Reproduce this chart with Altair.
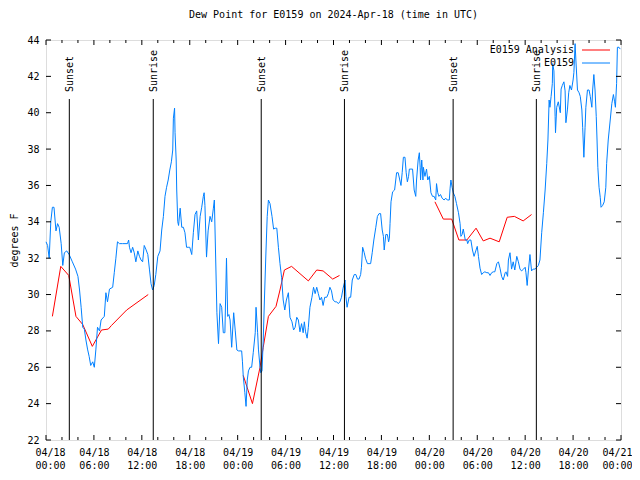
import altair as alt
import pandas as pd

# ---------------- data (hours after 2024-04-18 00:00 UTC) ----------------
obs_hours = [0.0, 0.2, 0.4, 0.6, 0.8, 1.0, 1.25, 1.45, 1.65, 1.9, 2.1, 2.3, 2.6, 2.9, 3.3, 3.7, 4.0, 4.2, 4.4, 4.6,
             4.8, 5.0, 5.2, 5.4, 5.6, 5.85, 6.05, 6.25, 6.45, 6.7, 6.9, 7.3, 7.5, 7.7, 7.95, 8.35, 8.55, 8.75, 8.95, 9.2,
             9.6, 10.2, 10.35, 10.45, 10.65, 10.85, 11.05, 11.25, 11.5, 11.7, 11.9, 12.1, 12.3, 12.5, 12.75, 12.95,
             13.15, 13.35, 13.55, 13.75, 14.0, 14.28, 14.49, 14.7, 14.9, 15.1, 15.3, 15.5, 15.7, 15.87, 15.95, 16.1,
             16.16, 16.3, 16.37, 16.5, 16.6, 16.8, 17.0, 17.2, 17.4, 17.6, 17.8, 18.0, 18.25, 18.45, 18.66, 18.87,
             19.08, 19.3, 19.5, 19.7, 19.8, 19.9, 20.1, 20.3, 20.54, 20.75, 20.96, 21.08, 21.25, 21.4, 21.6, 21.8,
             22.0, 22.1, 22.2, 22.4, 22.6, 22.75, 22.9, 23.05, 23.25, 23.5, 23.7, 23.9, 24.1, 24.5, 24.6, 24.7, 24.9,
             25.05, 25.2, 25.35, 25.55, 25.75, 25.95, 26.2, 26.3, 26.5, 26.6, 26.8, 26.9, 27.05, 27.2, 27.35, 27.55,
             27.7, 27.85, 28.05, 28.3, 28.5, 28.7, 28.9, 29.1, 29.3, 29.5, 29.7, 29.9, 30.1, 30.35, 30.55, 30.8, 31.0,
             31.2, 31.4, 31.6, 31.8, 32.0, 32.2, 32.35, 32.5, 32.7, 32.85, 33.05, 33.3, 33.5, 33.7, 33.9, 34.1, 34.3,
             34.5, 34.7, 34.9, 35.15, 35.35, 35.55, 35.75, 35.95, 36.2, 36.4, 36.6, 36.8, 37.0, 37.2, 37.45, 37.55,
             37.7, 37.95, 38.15, 38.35, 38.6, 38.8, 39.0, 39.2, 39.4, 39.5, 39.65, 39.85, 40.0, 40.25, 40.45, 40.65,
             40.85, 41.05, 41.3, 41.5, 41.7, 41.9, 42.1, 42.25, 42.35, 42.55, 42.75, 42.9, 43.0, 43.08, 43.2, 43.4,
             43.65, 43.9, 44.1, 44.3, 44.45, 44.6, 44.75, 44.95, 45.1, 45.25, 45.4, 45.5, 45.7, 45.9, 46.1, 46.3,
             46.4, 46.6, 46.75, 46.85, 46.9, 47.05, 47.2, 47.25, 47.45, 47.65, 47.8, 48.0, 48.2, 48.4, 48.6, 48.8,
             48.9, 49.05, 49.2, 49.4, 49.6, 49.85, 50.05, 50.25, 50.5, 50.6, 50.7, 50.85, 51.0, 51.2, 51.4, 51.65,
             51.85, 51.95, 52.1, 52.25, 52.5, 52.7, 52.8, 53.0, 53.2, 53.4, 53.6, 53.85, 54.0, 54.15, 54.35, 54.55,
             54.75, 54.95, 55.2, 55.4, 55.6, 55.8, 56.0, 56.2, 56.45, 56.65, 56.85, 57.05, 57.25, 57.5, 57.6, 57.8,
             57.9, 58.1, 58.3, 58.5, 58.7, 58.95, 59.15, 59.35, 59.55, 59.8, 60.0, 60.1, 60.25, 60.4, 60.6, 60.8,
             61.0, 61.25, 61.45, 61.65, 61.85, 62.07, 62.28, 62.5, 62.7, 62.85, 63.0, 63.1, 63.25, 63.4, 63.45, 63.6,
             63.75, 63.8, 63.95, 64.15, 64.4, 64.5, 64.65, 64.85, 65.0, 65.1, 65.3, 65.45, 65.6, 65.8, 66.0, 66.1,
             66.25, 66.35, 66.55, 66.75, 66.9, 67.1, 67.2, 67.35, 67.5, 67.6, 67.8, 68.0, 68.15, 68.35, 68.45, 68.6,
             68.75, 68.9, 69.0, 69.1, 69.25, 69.4, 69.5, 69.7, 69.9, 70.1, 70.2, 70.4, 70.65, 70.85, 71.05, 71.2,
             71.3, 71.45, 71.55, 71.75, 71.9]
obs_values = [32.9, 32.7, 32.0, 34.0, 34.8, 34.8, 33.5, 33.9, 33.7, 32.8, 31.6, 32.3, 32.4, 32.2, 31.8, 31.4, 31.0,
              30.25, 29.3, 28.2, 28.1, 27.5, 27.0, 26.6, 26.1, 26.3, 26.0, 27.0, 28.2, 28.0, 28.6, 28.8, 30.1, 29.6,
              30.3, 30.4, 31.2, 32.0, 32.9, 32.8, 32.8, 32.8, 33.0, 32.6, 32.3, 32.6, 32.3, 31.8, 32.4, 32.1, 31.9,
              31.8, 32.7, 32.5, 32.2, 31.4, 30.6, 30.25, 30.5, 31.1, 32.1, 32.4, 33.55, 34.3, 35.4, 35.9, 36.3, 36.85,
              37.3, 37.95, 39.7, 40.25, 38.9, 37.4, 35.75, 34.0, 33.8, 34.75, 33.7, 33.7, 33.4, 32.6, 32.6, 32.6,
              32.2, 33.4, 34.4, 34.6, 33.0, 34.3, 34.8, 35.4, 35.6, 34.9, 32.06, 33.5, 34.3, 34.0, 34.75, 35.2, 31.9,
              29.0, 27.3, 29.5, 29.3, 28.6, 27.9, 27.9, 32.0, 28.8, 28.9, 28.6, 27.1, 29.0, 28.0, 26.95, 26.9, 26.9,
              26.3, 25.5, 24.6, 23.85, 25.3, 25.8, 26.0, 26.0, 26.8, 27.9, 29.3, 27.9, 27.0, 26.0, 25.7, 25.8, 27.5,
              29.7, 32.45, 34.3, 35.2, 35.0, 34.3, 33.6, 33.65, 33.65, 32.6, 31.7, 30.95, 29.7, 29.15, 29.7, 30.1,
              28.75, 28.5, 28.05, 28.2, 28.75, 28.6, 27.95, 28.4, 27.9, 28.5, 27.95, 27.6, 28.2, 29.3, 29.85, 30.4,
              30.05, 30.4, 30.05, 29.7, 29.85, 29.4, 29.85, 29.85, 30.05, 30.4, 30.2, 29.7, 29.6, 29.6, 29.5, 29.6,
              29.85, 30.35, 30.8, 29.9, 29.3, 29.85, 29.85, 30.8, 31.1, 31.1, 30.85, 30.85, 31.1, 31.5, 32.6, 32.3,
              32.0, 31.7, 31.7, 31.7, 32.3, 33.0, 33.7, 34.3, 34.45, 34.45, 33.55, 33.2, 32.45, 33.3, 33.3, 32.9,
              33.1, 33.9, 35.1, 35.65, 35.75, 36.7, 36.7, 36.3, 36.0, 36.7, 37.55, 37.55, 36.7, 36.2, 36.5, 36.9,
              36.9, 36.9, 35.75, 35.4, 36.3, 37.4, 37.8, 37.0, 36.3, 37.4, 36.3, 37.0, 36.5, 36.9, 36.3, 36.5, 35.6,
              35.4, 35.4, 35.2, 36.1, 35.6, 35.4, 35.5, 35.3, 35.2, 35.3, 35.2, 35.2, 35.85, 36.3, 35.9, 35.6, 35.4,
              35.0, 34.5, 33.9, 33.2, 33.3, 33.6, 33.0, 33.0, 32.8, 33.0, 33.0, 32.45, 32.1, 32.45, 32.65, 32.1,
              31.45, 31.1, 31.2, 31.25, 31.2, 31.2, 31.05, 31.2, 31.25, 31.25, 31.7, 31.8, 31.45, 31.0, 30.8, 31.2,
              31.25, 31.0, 31.9, 32.3, 31.4, 31.8, 31.35, 32.1, 31.8, 31.4, 31.3, 31.4, 31.5, 31.2, 30.5, 31.3, 32.2,
              31.3, 31.4, 31.4, 31.5, 31.6, 31.9, 33.4, 34.5, 35.75, 37.2, 38.5, 40.7, 40.3, 40.9, 41.6, 42.7, 42.3,
              39.8, 38.9, 40.3, 40.6, 40.0, 41.3, 41.5, 41.7, 41.2, 39.45, 40.2, 41.1, 41.5, 41.25, 41.8, 42.2, 43.8,
              42.9, 41.25, 41.1, 40.9, 40.15, 39.2, 37.55, 39.2, 40.3, 41.25, 41.25, 40.9, 40.3, 41.25, 42.1, 41.25,
              39.8, 38.5, 37.0, 35.9, 35.35, 34.8, 34.9, 35.1, 35.9, 37.2, 38.5, 39.6, 40.5, 41.0, 40.6, 40.3, 41.6,
              43.6, 43.6, 43.5]

ana_segment = [1] * 11 + [2] * 14 + [3] * 13
ana_hours = [0.8, 1.85, 2.85, 3.75, 4.6, 5.8, 6.95, 7.8, 8.2, 10.1, 12.8,
             24.7, 25.85, 26.8, 27.2, 27.85, 28.8, 29.3, 29.85, 30.75, 32.85, 33.9, 34.7, 35.9, 36.75,
             48.7, 49.75, 50.8, 51.7, 52.7, 53.85, 54.75, 55.6, 56.75, 57.75, 58.65, 59.75, 60.8]
ana_values = [28.8, 31.55, 31.05, 28.8, 28.35, 27.15, 28.05, 28.1, 28.3, 29.15, 30.0,
              25.55, 24.0, 26.0, 27.1, 28.8, 29.35, 30.25, 31.35, 31.55, 30.75, 31.35, 31.3, 30.85, 31.05,
              35.1, 34.15, 34.15, 33.0, 33.0, 33.65, 32.95, 33.1, 32.9, 34.25, 34.3, 34.05, 34.4]

sun_labels = ["Sunset", "Sunrise", "Sunset", "Sunrise", "Sunset", "Sunrise"]
sun_hours = [2.92, 13.43, 26.95, 37.37, 50.98, 61.4]

x_major_hours = list(range(0, 73, 6))
x_minor_hours = [h for h in range(0, 73, 2) if h % 6 != 0]
y_ticks = list(range(22, 45, 2))

series_names = ["E0159 Analysis", "E0159"]
series_colors = ["#ff0000", "#0080ff"]

# ---------------- helpers ----------------
T0 = pd.Timestamp("2024-04-18 00:00")


def iso(hours):
    return [(T0 + pd.Timedelta(hours=h)).strftime("%Y-%m-%dT%H:%M:%SZ") for h in hours]


obs_df = pd.DataFrame({"time": iso(obs_hours), "value": obs_values, "series": "E0159", "seg": 0})
ana_df = pd.DataFrame({"time": iso(ana_hours), "value": ana_values, "series": "E0159 Analysis", "seg": ana_segment})
lines_df = pd.concat([ana_df, obs_df], ignore_index=True)
sun_df = pd.DataFrame({"time": iso(sun_hours), "label": sun_labels})
xmaj_df = pd.DataFrame({"time": iso(x_major_hours)})
xmin_df = pd.DataFrame({"time": iso(x_minor_hours)})
y_df = pd.DataFrame({"value": y_ticks})

FONT = "DejaVu Sans Mono"
W, H = 575, 400

x_vals = [alt.DateTime(year=2024, month=4, date=18 + h // 24, hours=h % 24, utc=True) for h in x_major_hours]
x_scale = alt.Scale(type="utc", domain=[x_vals[0], x_vals[-1]])
y_scale = alt.Scale(domain=[22, 44], nice=False, zero=False)

x_axis = alt.Axis(values=x_vals, ticks=False, domain=False, grid=False, labelFont=FONT,
                  labelFontSize=10, labelColor="black", labelPadding=7, labelLineHeight=13,
                  labelFlush=True, labelFlushOffset=11, labelOverlap=False,
                  labelExpr="[utcFormat(datum.value, '%m/%d'), utcFormat(datum.value, '%H:%M')]")
y_axis = alt.Axis(values=y_ticks, ticks=False, domain=False, grid=False, labelFont=FONT,
                  labelFontSize=10, labelColor="black", labelPadding=7, labelOverlap=False,
                  labelFlush=False, titleFont=FONT,
                  titleFontSize=10, titleFontWeight="normal", titleColor="black",
                  titleX=-32, titleY=200, titleAngle=270, titleBaseline="middle",
                  titleAlign="center")


def xe(field="time:T"):
    return alt.X(field, scale=x_scale, title=None, axis=x_axis)


def ye(field="value:Q"):
    return alt.Y(field, scale=y_scale, title="degrees F", axis=y_axis)


lines = alt.Chart(lines_df).mark_line(strokeWidth=1, interpolate="linear").encode(
    x=xe(), y=ye(),
    color=alt.Color("series:N", scale=alt.Scale(domain=series_names, range=series_colors), legend=None),
    detail="seg:N",
    order=alt.Order("time:T"),
)

sun_rules = alt.Chart(sun_df).mark_rule(color="black", strokeWidth=1).encode(
    x=xe(), y=alt.value(59), y2=alt.value(H))
sun_text = alt.Chart(sun_df).mark_text(angle=270, align="left", baseline="alphabetic", dy=4,
                                        font=FONT, fontSize=10, color="black").encode(
    x=xe(), y=alt.value(52), text="label:N")

tick_style = dict(color="black", strokeWidth=1)
xmaj_b = alt.Chart(xmaj_df).mark_rule(**tick_style).encode(x=xe(), y=alt.value(H), y2=alt.value(H - 5))
xmaj_t = alt.Chart(xmaj_df).mark_rule(**tick_style).encode(x=xe(), y=alt.value(0), y2=alt.value(5))
xmin_b = alt.Chart(xmin_df).mark_rule(**tick_style).encode(x=xe(), y=alt.value(H), y2=alt.value(H - 3))
xmin_t = alt.Chart(xmin_df).mark_rule(**tick_style).encode(x=xe(), y=alt.value(0), y2=alt.value(3))
y_l = alt.Chart(y_df).mark_rule(**tick_style).encode(y=ye(), x=alt.value(0), x2=alt.value(5))
y_r = alt.Chart(y_df).mark_rule(**tick_style).encode(y=ye(), x=alt.value(W), x2=alt.value(W - 5))

legend_layers = []
for i, (name, col) in enumerate(zip(series_names, series_colors)):
    ld = pd.DataFrame({"label": [name]})
    ypos = 10 + 13 * i
    legend_layers.append(alt.Chart(ld).mark_text(align="right", baseline="middle", font=FONT, fontSize=10,
                                                 color="black").encode(
        text="label:N", x=alt.value(528), y=alt.value(ypos)))
    legend_layers.append(alt.Chart(ld).mark_rule(color=col, strokeWidth=1).encode(
        x=alt.value(536), x2=alt.value(564), y=alt.value(ypos)))

chart = alt.layer(
    lines, sun_rules, sun_text, xmaj_b, xmaj_t, xmin_b, xmin_t, y_l, y_r, *legend_layers
).properties(
    width=W, height=H,
    title=alt.TitleParams("Dew Point for E0159 on 2024-Apr-18 (time in UTC)", font=FONT, fontSize=10,
                          fontWeight="normal", color="black", anchor="middle", offset=15),
    autosize=alt.AutoSizeParams(type="none"),
    padding={"left": 38, "top": 32, "right": 11, "bottom": 30},
).configure_view(stroke="black", strokeWidth=1).configure_axis(labelOverlap=False).configure(background="white")

chart.save("out.html", embed_options={"renderer": "svg", "actions": False})
